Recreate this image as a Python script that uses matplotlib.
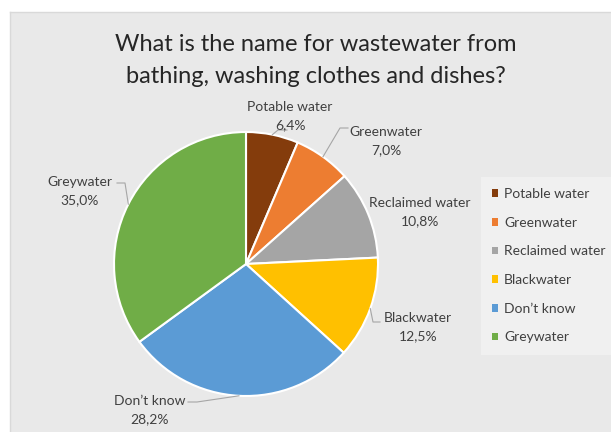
import numpy as np
import matplotlib.pyplot as plt
from matplotlib.patches import Rectangle, Patch

plt.rcParams['font.family'] = ['Lato', 'DejaVu Sans']
plt.rcParams['hatch.color'] = '#f6f6f6'
plt.rcParams['hatch.linewidth'] = 1.0

# data
categories = ["Potable water", "Greenwater", "Reclaimed water",
              "Blackwater", "Don\u2019t know", "Greywater"]
shares = [6.4, 7.0, 10.8, 12.5, 28.2, 35.0]
colors = ["#843C0C", "#ED7D31", "#A5A5A5", "#FFC000", "#5B9BD5", "#70AD47"]

# layout: label centres (pixels, y up) and leader elbows (x start, x elbow, y)
label_pos = [(290, 316), (386, 291), (420, 220), (418, 105), (150, 22), (80, 241)]
leaders = [(287, 278, 302), (348, 340, 304), None, (380, 373, 110),
           (188, 197, 30), (117, 125, 249)]

W, H = 611, 432
fig = plt.figure(figsize=(W / 100, H / 100), dpi=100)
ax = fig.add_axes([0, 0, 1, 1])

# chart area background
ax.add_patch(Rectangle((10, -5), W, H - 12 + 5, facecolor='#e9e9e9',
                       edgecolor='none', hatch='\\\\\\\\', zorder=0))
ax.plot([10, W], [H - 12, H - 12], color='#d9d9d9', lw=1, zorder=1)
ax.plot([10, 10], [0, H - 12], color='#d9d9d9', lw=1, zorder=1)

cx, cy, r = 246, 168, 132
wedges, _ = ax.pie(shares, colors=colors, startangle=90, counterclock=False,
                   center=(cx, cy), radius=r, frame=True,
                   wedgeprops=dict(edgecolor='white', linewidth=1.5))
ax.set_xlim(0, W)
ax.set_ylim(0, H)
ax.axis('off')

for w, name, val, (lx, ly), ld in zip(wedges, categories, shares, label_pos, leaders):
    ax.text(lx, ly, f"{name}\n{val:.1f}%".replace('.', ','), ha='center', va='center',
            fontsize=10, color='#404040', linespacing=1.55, zorder=5)
    if ld:
        mid = np.deg2rad((w.theta1 + w.theta2) / 2)
        px, py = cx + r * np.cos(mid), cy + r * np.sin(mid)
        ax.plot([ld[0], ld[1], px], [ld[2], ld[2], py],
                color='#a6a6a6', lw=0.8, zorder=4)

ax.text(316, H - 60.5, "What is the name for wastewater from\nbathing, washing clothes and dishes?",
        ha='center', va='center', fontsize=17, color='#262626', linespacing=1.6)

handles = [Patch(facecolor=c, edgecolor='none') for c in colors]
leg = ax.legend(handles, categories, loc='upper left', bbox_to_anchor=(481, H - 177),
                bbox_transform=ax.transData, frameon=True, fontsize=10,
                handlelength=0.45, handleheight=0.45, handletextpad=0.4,
                labelspacing=1.2, borderpad=0.8, borderaxespad=0, fancybox=False)
leg.get_frame().set_facecolor('#f3f3f3')
leg.get_frame().set_edgecolor('none')
for t in leg.get_texts():
    t.set_color('#404040')

fig.savefig('out.png', dpi=100, facecolor='white')
